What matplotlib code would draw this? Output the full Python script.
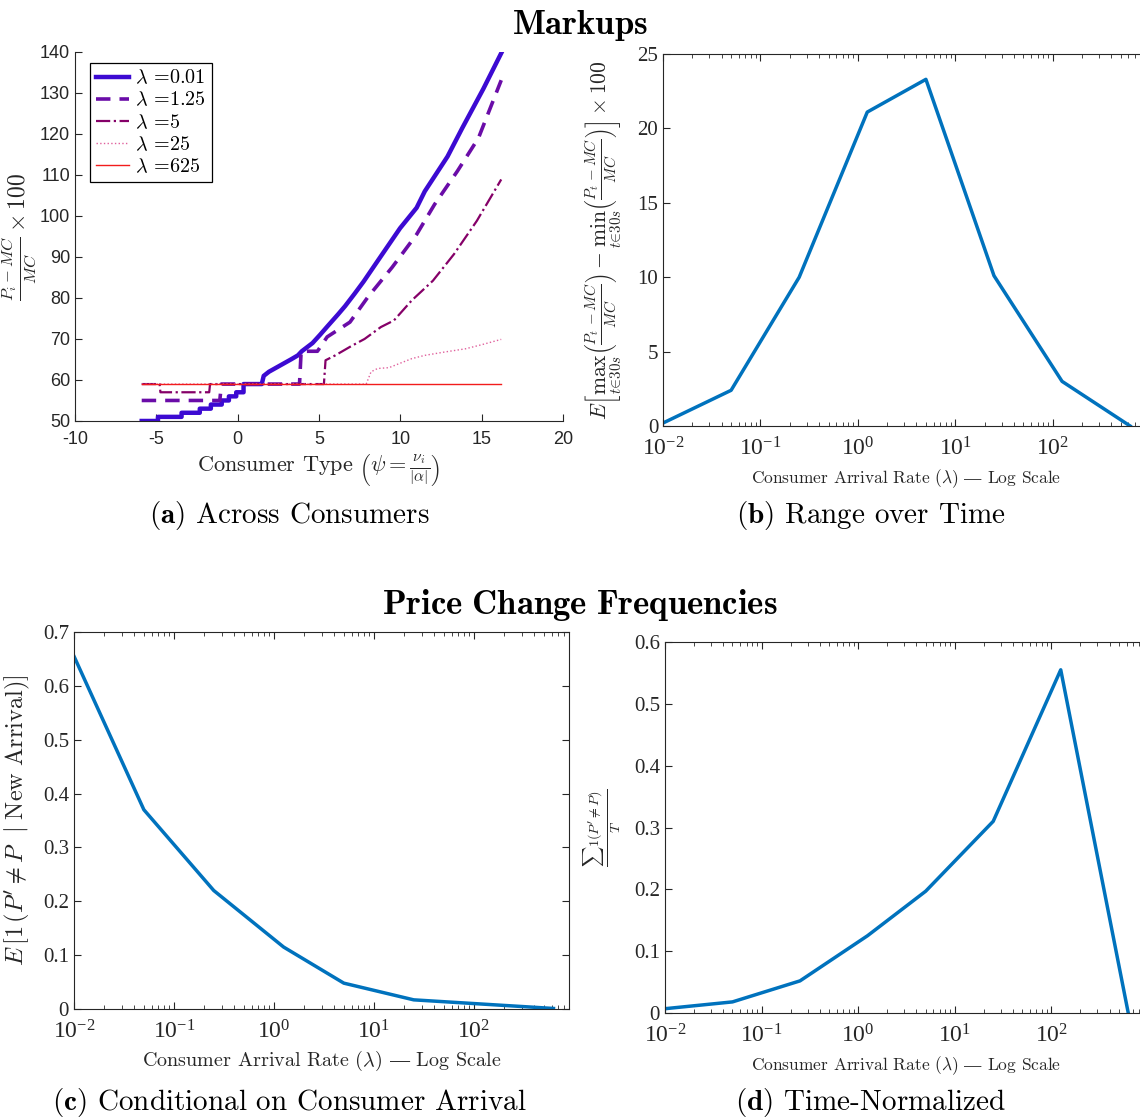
import matplotlib
matplotlib.use("Agg")
import matplotlib.pyplot as plt
from matplotlib.ticker import FuncFormatter
import numpy as np

plt.rcParams['font.family'] = ['Liberation Serif', 'DejaVu Serif']
plt.rcParams['mathtext.fontset'] = 'cm'
plt.rcParams['axes.unicode_minus'] = False

# ---- data: panel (a) markups across consumer types ----
psi_001 = [-5.9, -4.9, -4.9, -3.45, -3.45, -2.33, -2.33, -1.65, -1.65, -0.98, -0.98, -0.54, -0.54,
           -0.09, -0.09, 0.36, 0.36, 1.48, 1.6, 1.92, 2.37, 2.82, 3.27, 3.7, 3.94, 4.6, 5.06, 5.5,
           6.17, 6.6, 7.18, 7.74, 8.6, 9.98, 11.0, 11.5, 12.9, 13.8, 15.1, 16.2]
mk_001 = [50, 50, 51, 51, 52, 52, 53, 53, 54, 54, 55, 55, 56,
          56, 57, 57, 59, 59, 61, 62, 63, 64, 65, 66, 67, 69, 71, 73,
          76, 78, 81, 84, 89, 97, 102, 106, 114.5, 121.4, 131, 139.7]

psi_125 = [-5.9, -1.1, -1.0, 3.8, 3.9, 4.9, 5.5, 6.9, 8.0, 9.5, 11.0, 12.1, 13.5, 14.8, 16.2]
mk_125 = [55, 55, 59, 59, 67, 67, 70.5, 74.1, 80.2, 87.5, 95.5, 102.8, 110.9, 119, 133.1]

psi_5 = [-5.9, -4.8, -4.75, -1.75, -1.7, 5.3, 5.4, 6.0, 7.0, 7.8, 8.8, 9.6, 10.7, 12.0, 13.3, 14.7, 16.2]
mk_5 = [59, 59, 57, 57, 59, 59, 64.8, 66, 68.3, 70, 72.9, 74.5, 79.4, 84.2, 90.7, 98.8, 108.9]

psi_25 = [-5.9, 7.9, 8.2, 8.6, 9.3, 10.7, 11.5, 12.7, 14.0, 15.0, 16.2]
mk_25 = [59, 59, 62, 62.8, 63, 65.2, 66, 66.8, 67.6, 68.6, 69.9]

psi_625 = [-5.9, 16.2]
mk_625 = [59, 59]

# ---- data: panels (b)-(d) versus arrival rate ----
lam = [0.01, 0.05, 0.25, 1.25, 5, 25, 125, 625]
markup_range = [0.2, 2.4, 10.0, 21.1, 23.3, 10.1, 3.0, 0.0]
freq_arrival = [0.655, 0.37, 0.22, 0.115, 0.048, 0.017, 0.009, 0.001]
freq_time = [0.007, 0.018, 0.052, 0.125, 0.197, 0.31, 0.555, 0.0]
log_ticks = [1e-2, 1e-1, 1e0, 1e1, 1e2]

matlab_blue = '#0072BD'
dark = '#262626'
cm_text = ['cmr10', 'DejaVu Serif']
arrival_label = 'Consumer Arrival Rate ($\\lambda$) $\u2014$ Log Scale'

fig = plt.figure(figsize=(11.4, 11.19), dpi=100)

# ---------- (a) ----------
ax = fig.add_axes([0.0658, 0.6238, 0.4281, 0.3298])
ax.plot(psi_001, mk_001, color='#3c0ad2', lw=3.2, label=r'$\lambda$ =0.01')
ax.plot(psi_125, mk_125, color='#6a0ca8', lw=2.6, ls=(0, (4, 2.5)), label=r'$\lambda$ =1.25')
ax.plot(psi_5, mk_5, color='#850068', lw=1.6, ls='-.', label=r'$\lambda$ =5')
ax.plot(psi_25, mk_25, color='#e0609c', lw=1.0, ls=':', label=r'$\lambda$ =25')
ax.plot(psi_625, mk_625, color='#f21c1c', lw=1.0, label=r'$\lambda$ =625')
ax.set_xlim(-10, 20)
ax.set_ylim(50, 140)
ax.set_xticks(np.arange(-10, 21, 5))
ax.set_yticks(np.arange(50, 141, 10))
ax.spines['top'].set_visible(False)
ax.spines['right'].set_visible(False)
for s in ax.spines.values():
    s.set_color(dark)
ax.tick_params(direction='in', length=5, colors=dark, labelsize=13,
               labelfontfamily='Liberation Sans')
ax.tick_params(axis='x', pad=7)
ax.set_xlabel(r'Consumer Type $\left(\psi = \frac{\nu_i}{|\alpha|}\right)$',
              fontsize=16, family=cm_text, color=dark)
ax.set_ylabel(r'$\frac{P_i - MC}{MC} \times 100$', fontsize=17, color=dark)
ax.xaxis.set_label_coords(0.5, -0.085)
ax.yaxis.set_label_coords(-0.075, 0.5)
leg = ax.legend(loc='upper left', bbox_to_anchor=(0.031, 0.97), borderaxespad=0,
                fancybox=False, edgecolor='black', framealpha=1, handlelength=1.65,
                prop={'family': cm_text, 'size': 14.5}, labelspacing=0.18,
                borderpad=0.3, handletextpad=0.3)
leg.get_frame().set_linewidth(0.9)


def log_panel(ax, y, xmax, ylim, yticks, ylabel, ylabel_size, xlabel_size):
    ax.plot(lam, y, color=matlab_blue, lw=2.5)
    ax.set_xscale('log')
    ax.set_xlim(0.01, xmax)
    ax.set_xticks(log_ticks)
    ax.set_ylim(*ylim)
    ax.set_yticks(yticks)
    ax.yaxis.set_major_formatter(FuncFormatter(lambda v, _: f'{v:g}'))
    ax.tick_params(which='both', direction='in', top=True, right=True, colors=dark,
                   labelsize=15)
    ax.tick_params(axis='x', labelsize=17, pad=8)
    ax.tick_params(which='major', length=5)
    ax.tick_params(which='minor', length=3)
    for s in ax.spines.values():
        s.set_color(dark)
    ax.set_xlabel(arrival_label, fontsize=xlabel_size, family=cm_text, color=dark)
    ax.set_ylabel(ylabel, fontsize=ylabel_size, color=dark)


# ---------- (b) ----------
ax = fig.add_axes([0.5816, 0.6193, 0.4272, 0.3324])
log_panel(ax, markup_range, 1000, (0, 25), np.arange(0, 26, 5),
          r'$E\left[\max_{t\in 30s}\left(\frac{P_t - MC}{MC}\right) - '
          r'\min_{t\in 30s}\left(\frac{P_t - MC}{MC}\right)\right] \times 100$', 15.5, 12.5)
ax.xaxis.set_label_coords(0.5, -0.11)
ax.yaxis.set_label_coords(-0.08, 0.5)

# ---------- (c) ----------
ax = fig.add_axes([0.0649, 0.0983, 0.4345, 0.3369])
log_panel(ax, freq_arrival, 900, (0, 0.7), np.arange(0, 0.71, 0.1),
          r'$E\,[1\,(P^{\prime} \neq P\ \ |\ \mathrm{New\ Arrival})]$', 17.5, 14.5)
ax.xaxis.set_label_coords(0.5, -0.105)
ax.yaxis.set_label_coords(-0.085, 0.5)

# ---------- (d) ----------
ax = fig.add_axes([0.5833, 0.0947, 0.4237, 0.3316])
log_panel(ax, freq_time, 1000, (0, 0.6), np.arange(0, 0.61, 0.1),
          r'$\frac{\sum 1(P^{\prime}\neq P)}{T}$', 14.5, 12.5)
ax.xaxis.set_label_coords(0.5, -0.11)
ax.yaxis.set_label_coords(-0.085, 0.5)

# ---------- titles and sub-captions ----------
fig.text(0.509, 0.977, r'$\mathbf{Markups}$', fontsize=25, ha='center', va='center')
fig.text(0.509, 0.459, r'$\mathbf{Price\ Change\ Frequencies}$', fontsize=25,
         ha='center', va='center')
fig.text(0.254, 0.539, r'$\mathbf{(a)}$ Across Consumers', fontsize=21,
         family=cm_text, ha='center', va='center')
fig.text(0.764, 0.539, r'$\mathbf{(b)}$ Range over Time', fontsize=21,
         family=cm_text, ha='center', va='center')
fig.text(0.254, 0.015, r'$\mathbf{(c)}$ Conditional on Consumer Arrival', fontsize=21,
         family=cm_text, ha='center', va='center')
fig.text(0.764, 0.015, r'$\mathbf{(d)}$ Time-Normalized', fontsize=21,
         family=cm_text, ha='center', va='center')

fig.savefig('out.png', dpi=100)
plt.close(fig)
